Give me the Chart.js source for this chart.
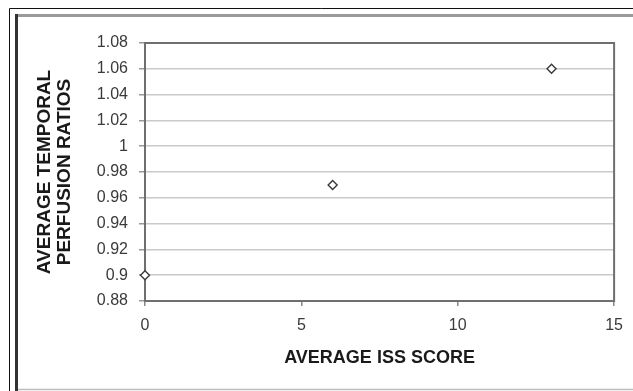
<!DOCTYPE html>
<html>
<head>
<meta charset="utf-8">
<script src="https://cdn.jsdelivr.net/npm/chart.js@4/dist/chart.umd.min.js"></script>
<style>
  html, body { margin: 0; padding: 0; background: #fff; }
  #chart { display: block; }
</style>
</head>
<body>
<canvas id="chart" width="633" height="391"></canvas>
<script>
// données
const issScores = [0, 6, 13];
const perfusionRatios = [0.9, 0.97, 1.06];

const xTickValues = [0, 5, 10, 15];
const yTickValues = [0.88, 0.9, 0.92, 0.94, 0.96, 0.98, 1, 1.02, 1.04, 1.06, 1.08];

const xTitle = 'AVERAGE ISS SCORE';
const yTitle = ['AVERAGE TEMPORAL', 'PERFUSION RATIOS'];

const FONT = "'Liberation Sans', Arial, sans-serif";

// cadre extérieur + bordure de la zone de tracé
const framePlugin = {
  id: 'frame',
  beforeDraw(chart) {
    const c = chart.ctx;
    c.save();
    c.fillStyle = '#fff';
    c.fillRect(0, 0, chart.width, chart.height);
    // trait fin noir
    c.strokeStyle = '#111';
    c.lineWidth = 1;
    c.beginPath();
    c.moveTo(9.5, 391);
    c.lineTo(9.5, 8.5);
    c.lineTo(633, 8.5);
    c.stroke();
    // trait épais gris en haut
    c.strokeStyle = '#9a9a9a';
    c.lineWidth = 3;
    c.beginPath();
    c.moveTo(15, 15.5);
    c.lineTo(633, 15.5);
    c.stroke();
    // trait épais foncé à gauche
    c.strokeStyle = '#333';
    c.beginPath();
    c.moveTo(16.5, 14);
    c.lineTo(16.5, 391);
    c.stroke();
    // trait du bas
    c.strokeStyle = '#bbb';
    c.lineWidth = 1.5;
    c.beginPath();
    c.moveTo(18, 389.5);
    c.lineTo(633, 389.5);
    c.stroke();
    c.restore();
  },
  beforeDatasetsDraw(chart) {
    const { left, top, right, bottom } = chart.chartArea;
    const c = chart.ctx;
    c.save();
    c.strokeStyle = '#6f6f6f';
    c.lineWidth = 2;
    c.strokeRect(left, top, right - left, bottom - top);
    c.restore();
  }
};

const ctx = document.getElementById('chart').getContext('2d');
const chart = new Chart(ctx, {
  type: 'scatter',
  data: {
    datasets: [{
      data: issScores.map((x, i) => ({ x: x, y: perfusionRatios[i] })),
      pointStyle: 'rectRot',
      pointRadius: 4.5,
      pointBorderWidth: 1.4,
      pointBorderColor: '#3a3a3a',
      pointBackgroundColor: '#fff',
      clip: false
    }]
  },
  options: {
    responsive: false,
    animation: false,
    layout: { padding: { left: 30, right: 18, top: 43, bottom: 0 } },
    plugins: {
      legend: { display: false },
      tooltip: { enabled: false }
    },
    scales: {
      x: {
        type: 'linear',
        min: 0,
        max: 15,
        afterBuildTicks: axis => { axis.ticks = xTickValues.map(v => ({ value: v })); },
        afterFit: axis => { axis.height = 90; },
        grid: { display: true, drawOnChartArea: false, tickLength: 5, tickColor: '#888', lineWidth: 1.5 },
        border: { display: false },
        ticks: {
          padding: 10,
          color: '#3a3a3a',
          font: { family: FONT, size: 16 },
          maxRotation: 0,
          callback: v => String(v)
        },
        title: {
          display: true,
          text: xTitle,
          color: '#1a1a1a',
          font: { family: FONT, size: 18, weight: 'bold', lineHeight: 1.1 },
          padding: { top: 0, bottom: 23 }
        }
      },
      y: {
        type: 'linear',
        min: 0.88,
        max: 1.08,
        afterBuildTicks: axis => { axis.ticks = yTickValues.map(v => ({ value: v })); },
        afterFit: axis => { axis.width = 115; },
        grid: { color: '#cacaca', lineWidth: 1.5, tickLength: 6, tickColor: '#999' },
        border: { display: false },
        ticks: {
          padding: 11,
          color: '#3a3a3a',
          font: { family: FONT, size: 16 },
          callback: v => String(v)
        },
        title: {
          display: true,
          text: yTitle,
          color: '#1a1a1a',
          font: { family: FONT, size: 19, weight: 'bold', lineHeight: 1.05 },
          padding: { top: 5, bottom: 0 }
        }
      }
    }
  },
  plugins: [framePlugin]
});
</script>
</body>
</html>
